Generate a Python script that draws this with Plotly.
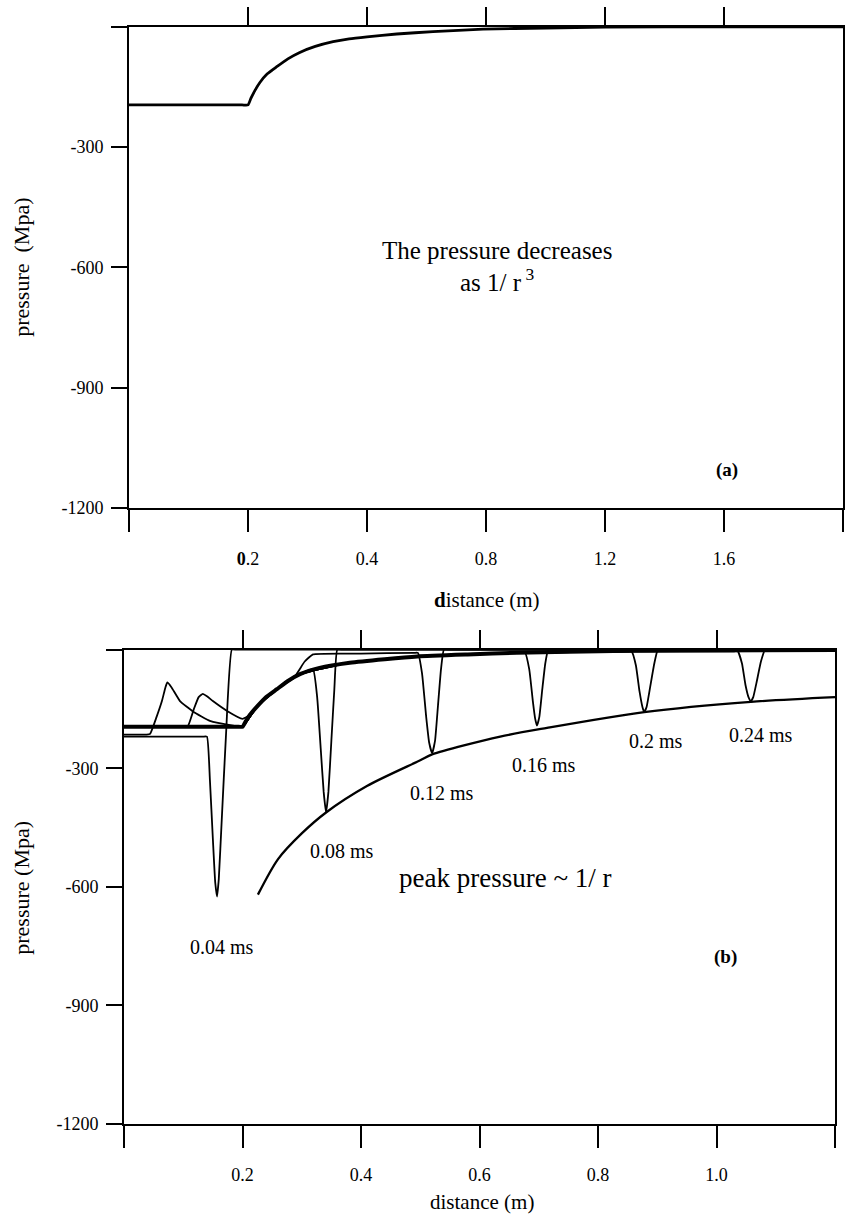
import plotly.graph_objects as go

W, H = 847, 1230
FONT = "Liberation Serif"

# ---------- panel (a) data ----------
a_static_x = [0, 0.1, 0.19, 0.2, 0.205, 0.212, 0.22, 0.232, 0.249, 0.267, 0.287, 0.313, 0.343, 0.37,
              0.4, 0.45, 0.511, 0.595, 0.70, 0.80, 1.0, 1.2]
a_static_y = [-195, -195, -195, -195, -178, -158, -139, -118, -99, -80, -64, -49, -37, -30,
              -25, -18, -12, -6, -3, -1, 0, 0]

x_tickvals = [0, 0.2, 0.4, 0.6, 0.8, 1.0, 1.2]
a_ticktext = ["", "<b>0</b>.2", "0.4", "0.8", "1.2", "1.6", ""]
b_ticktext = ["", "0.2", "0.4", "0.6", "0.8", "1.0", ""]
y_tickvals = [0, -300, -600, -900, -1200]
y_ticktext = ["", "-300", "-600", "-900", "-1200"]

# ---------- panel (b) data ----------
b_static_x = [0, 0.1, 0.19, 0.2, 0.206, 0.212, 0.224, 0.24, 0.258, 0.278, 0.297, 0.33, 0.381, 0.44,
              0.495, 0.58, 0.663, 0.75, 0.85, 1.2]
b_static_y = [-195, -195, -195, -195, -180, -166, -145, -120, -100, -78, -62, -46, -33, -24,
              -17, -12, -8, -5, -3, -1]

t004_x = [0, 0.07, 0.133, 0.140, 0.145, 0.150, 0.154, 0.157, 0.160, 0.165, 0.172, 0.182, 0.19, 1.2]
t004_y = [-220, -220, -220, -220, -330, -480, -590, -625, -580, -430, -220, 0, 0, 0]

t008_x = [0, 0.02, 0.038, 0.044, 0.055, 0.064, 0.070, 0.073, 0.080, 0.0945, 0.117, 0.145, 0.184, 0.2,
          0.224, 0.258, 0.297, 0.319, 0.326, 0.332, 0.337, 0.341, 0.345, 0.350, 0.355, 0.360, 0.37, 1.2]
t008_y = [-215, -215, -215, -213, -170, -130, -95, -83, -95, -130, -157, -180, -192, -195,
          -145, -100, -62, -50, -120, -250, -360, -412, -360, -230, -100, 0, 0, 0]

t012_x = [0, 0.05, 0.1, 0.108, 0.118, 0.126, 0.133, 0.140, 0.150, 0.174, 0.2, 0.212, 0.224, 0.258,
          0.289, 0.305, 0.319, 0.40, 0.49, 0.496, 0.503, 0.510, 0.515, 0.520, 0.525, 0.530, 0.535,
          0.540, 0.55, 1.2]
t012_y = [-195, -195, -195, -193, -150, -120, -112, -118, -130, -155, -175, -166, -145, -100,
          -66, -30, -12, -10, -8, -8, -60, -170, -235, -262, -230, -140, -50,
          0, 0, 0]

t016_x = [0, 0.1, 0.19, 0.2, 0.224, 0.258, 0.297, 0.381, 0.495, 0.60, 0.67, 0.677, 0.684, 0.690,
          0.694, 0.697, 0.701, 0.706, 0.711, 0.716, 0.725, 1.2]
t016_y = [-195, -195, -195, -195, -145, -100, -62, -33, -17, -10, -8, -8, -50, -130,
          -175, -192, -170, -100, -35, 0, 0, 0]

t020_x = [0, 0.1, 0.19, 0.2, 0.224, 0.258, 0.297, 0.381, 0.495, 0.663, 0.85, 0.857, 0.864, 0.870,
          0.875, 0.878, 0.882, 0.888, 0.895, 0.901, 0.91, 1.2]
t020_y = [-195, -195, -195, -195, -145, -100, -62, -33, -17, -8, -5, -5, -40, -105,
          -145, -158, -145, -95, -35, 0, 0, 0]

t024_x = [0, 0.1, 0.19, 0.2, 0.224, 0.258, 0.297, 0.381, 0.495, 0.663, 0.85, 1.03, 1.036, 1.043,
          1.049, 1.054, 1.058, 1.062, 1.068, 1.075, 1.082, 1.09, 1.2]
t024_y = [-195, -195, -195, -195, -145, -100, -62, -33, -17, -8, -5, -4, -4, -35,
          -90, -120, -130, -120, -80, -30, 0, 0, 0]

env_x = [0.226, 0.26, 0.30, 0.341, 0.41, 0.50, 0.52, 0.635, 0.714, 0.878, 1.058, 1.2]
env_y = [-620, -530, -465, -412, -345, -280, -265, -220, -198, -158, -132, -120]

# ---------- figure ----------
def px(x):
    return x / W

def py(y):
    return 1 - y / H

fig = go.Figure()
line_thin = dict(color="black", width=1.8, shape="spline", smoothing=0.4)

fig.add_trace(go.Scatter(x=a_static_x, y=a_static_y, mode="lines",
                         line=dict(color="black", width=2.8, shape="spline", smoothing=0.5),
                         xaxis="x", yaxis="y", showlegend=False, hoverinfo="skip"))

for xs, ys in [(t004_x, t004_y), (t008_x, t008_y), (t012_x, t012_y),
               (t016_x, t016_y), (t020_x, t020_y), (t024_x, t024_y)]:
    fig.add_trace(go.Scatter(x=xs, y=ys, mode="lines", line=line_thin,
                             xaxis="x2", yaxis="y2", showlegend=False, hoverinfo="skip"))
fig.add_trace(go.Scatter(x=b_static_x, y=b_static_y, mode="lines",
                         line=dict(color="black", width=4, shape="spline", smoothing=0.5),
                         xaxis="x2", yaxis="y2", showlegend=False, hoverinfo="skip"))
fig.add_trace(go.Scatter(x=env_x, y=env_y, mode="lines",
                         line=dict(color="black", width=2.3, shape="spline", smoothing=0.8),
                         xaxis="x2", yaxis="y2", showlegend=False, hoverinfo="skip"))

tickfont = dict(family=FONT, size=18, color="black")
common_x = dict(range=[0, 1.2], showgrid=False, zeroline=False, showline=True,
                linecolor="black", linewidth=2, ticks="outside", ticklen=22,
                tickwidth=2, tickcolor="black", tickvals=x_tickvals,
                tickfont=tickfont, ticklabelstandoff=12)
common_y = dict(range=[-1200, 0], showgrid=False, zeroline=False, showline=True,
                linecolor="black", linewidth=2, ticks="outside", ticklen=16,
                tickwidth=2, tickcolor="black", tickvals=y_tickvals,
                ticktext=y_ticktext, tickfont=tickfont, ticklabelstandoff=4,
                mirror=True)
top_x = dict(range=[0, 1.2], showgrid=False, zeroline=False, showline=True,
             linecolor="black", linewidth=2, ticks="outside", ticklen=18,
             tickwidth=2, tickcolor="black", tickvals=x_tickvals[1:-1],
             showticklabels=False, side="top")

fig.update_layout(
    width=W, height=H, margin=dict(l=0, r=0, t=0, b=0),
    paper_bgcolor="white", plot_bgcolor="white",
    xaxis=dict(common_x, domain=[px(129), px(843)], anchor="y", ticktext=a_ticktext),
    yaxis=dict(common_y, domain=[py(512), py(27)], anchor="x"),
    xaxis3=dict(top_x, domain=[px(129), px(843)], anchor="y", overlaying="x"),
    xaxis2=dict(common_x, domain=[px(124), px(835)], anchor="y2", ticktext=b_ticktext),
    yaxis2=dict(common_y, domain=[py(1133), py(655)], anchor="x2"),
    xaxis4=dict(top_x, domain=[px(124), px(835)], anchor="y2", overlaying="x2"),
)
fig.add_trace(go.Scatter(x=[0], y=[-2000], xaxis="x3", yaxis="y", mode="markers",
                         showlegend=False, hoverinfo="skip"))
fig.add_trace(go.Scatter(x=[0], y=[-2000], xaxis="x4", yaxis="y2", mode="markers",
                         showlegend=False, hoverinfo="skip"))

def txt(s, x, y, size, angle=0):
    fig.add_annotation(text=s, x=px(x), y=py(y), xref="paper", yref="paper",
                       showarrow=False, textangle=angle,
                       font=dict(family=FONT, size=size, color="black"),
                       xanchor="center", yanchor="middle")

txt("pressure  (Mpa)", 22, 270, 22, -90)
txt("pressure (Mpa)", 22, 895, 22, -90)
txt("<b>d</b>istance (m)", 487, 605, 21)
txt("distance (m)", 482, 1212, 21)
txt("The pressure decreases", 497, 253, 25)
txt("as 1/ r<sup> 3</sup>", 497, 282, 25)
txt("<b>(a)</b>", 727, 474, 19)
txt("<b>(b)</b>", 725, 965, 19)
txt("0.04 ms", 222, 955, 20)
txt("0.08 ms", 342, 858, 20)
txt("0.12 ms", 442, 800, 20)
txt("0.16 ms", 544, 771, 20)
txt("0.2 ms", 656, 747, 20)
txt("0.24 ms", 761, 741, 20)
txt("peak pressure ~ 1/ r", 505, 885, 27)

fig.write_html("out.html")
